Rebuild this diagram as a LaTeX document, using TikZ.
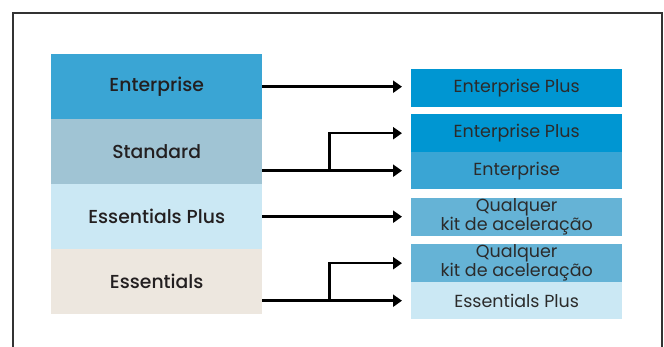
\documentclass[tikz,border=0pt]{standalone}
\usepackage{fontspec}
\setmainfont{Poppins}
\newfontfamily\medfont{Poppins Medium}
\usetikzlibrary{arrows.meta,calc}
\definecolor{frame}{HTML}{333333}
\definecolor{txt}{HTML}{231F20}
\definecolor{rtxt}{HTML}{2B2B2B}
\definecolor{cEnt}{HTML}{3AA5D4}
\definecolor{cStd}{HTML}{A0C4D4}
\definecolor{cEsp}{HTML}{CBE8F4}
\definecolor{cEss}{HTML}{EDE7DF}
\definecolor{cEP}{HTML}{0096D2}
\definecolor{cQ}{HTML}{65B3D6}
\tikzset{
  lbox/.style={rectangle, inner sep=0pt, minimum width=211pt, minimum height=65pt, anchor=north west, text=txt, font=\medfont\fontsize{18.8}{22}\selectfont},
  rbox/.style={rectangle, inner sep=0pt, minimum width=211pt, anchor=north west, text=rtxt, align=center, font=\fontsize{17.5}{17}\selectfont},
  arr/.style={line width=2.6pt, -{Triangle[length=9pt,width=12pt]}},
}
\begin{document}
\begin{tikzpicture}[x=1pt,y=-1pt]
\useasboundingbox (0,0) rectangle (664,347);
\draw[frame, line width=1.5pt] (13,347) -- (13,13) -- (662,13) -- (662,347);
% left boxes
\node[lbox, fill=cEnt] (ent) at (51,54) {Enterprise};
\node[lbox, fill=cStd] (std) at (51,119) {Standard};
\node[lbox, fill=cEsp] (esp) at (51,184) {Essentials Plus};
\node[lbox, fill=cEss] (ess) at (51,249) {Essentials};
% right boxes
\node[rbox, fill=cEP, minimum height=38pt] (rep1) at (411,69) {Enterprise Plus};
\node[rbox, fill=cEP, minimum height=38pt] (rep2) at (411,114) {Enterprise Plus};
\node[rbox, fill=cEnt, minimum height=37pt] (rent) at (411,152) {Enterprise};
\node[rbox, fill=cQ, minimum height=38pt] (rq1) at (411,198) {Qualquer\\kit de aceleração};
\node[rbox, fill=cQ, minimum height=38pt] (rq2) at (411,244) {Qualquer\\kit de aceleração};
\node[rbox, fill=cEsp, minimum height=37pt] (resp) at (411,282) {Essentials Plus};
% arrows
\draw[arr] (ent.east) -- ([xshift=-9pt]ent.east -| rep1.west);
\coordinate (s0) at (std.east |- rent.west);
\coordinate (sb) at ($(s0)+(67,0)$);
\draw[arr] (s0) -- ([xshift=-9pt]rent.west);
\draw[arr] (sb) |- ([xshift=-9pt]rep2.west);
\draw[arr] (esp.east) -- ([xshift=-9pt]esp.east -| rq1.west);
\coordinate (e0) at (ess.east |- resp.west);
\coordinate (eb) at ($(e0)+(67,0)$);
\draw[arr] (e0) -- ([xshift=-9pt]resp.west);
\draw[arr] (eb) |- ([xshift=-9pt]rq2.west);
\end{tikzpicture}
\end{document}
